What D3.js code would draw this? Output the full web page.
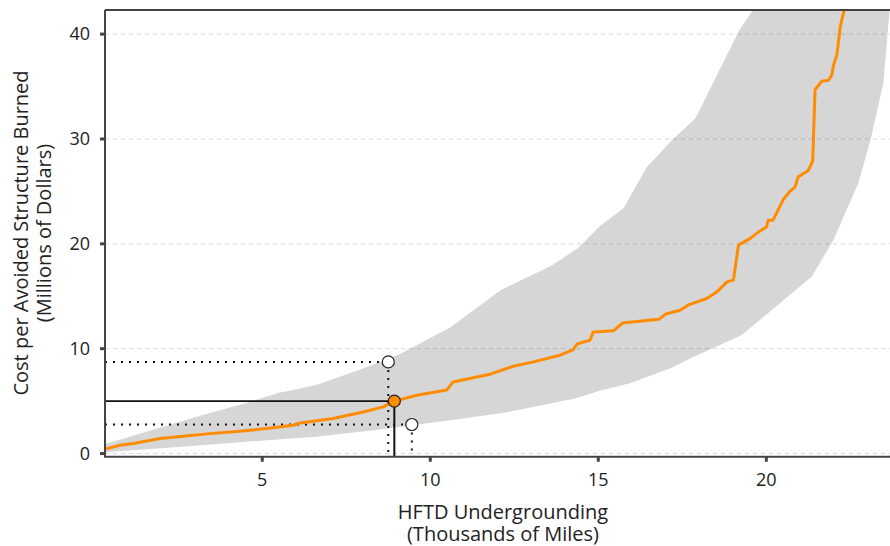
<!DOCTYPE html>
<html lang="en">
<head>
<meta charset="utf-8">
<title>Cost per avoided structure burned</title>
<script src="https://d3js.org/d3.v7.min.js"></script>
<style type="text/css">
  body { margin: 0; background: #fff; }
  svg text { font-family: "Open Sans", sans-serif; fill: #222; }
  .tick-label { font-size: 18px; }
  .axis-title { font-size: 20px; }
</style>
</head>
<body>
<div id="chart"></div>
<script type="text/javascript">
// ---- data ----
var yTicks = [0, 10, 20, 30, 40];
var xTicks = [5, 10, 15, 20];

// orange curve (thousands of miles, millions of dollars)
var curveX = [0.33, 0.76, 1.16, 1.96, 2.65, 3.44, 4.33, 5.13, 5.92, 6.12, 7.11, 8.0, 8.6, 8.93, 9.6,
  10.49, 10.68, 11.38, 11.78, 12.47, 13.07, 13.86, 14.26, 14.36, 14.75, 14.85, 15.45, 15.72, 16.8,
  17.0, 17.23, 17.43, 17.7, 18.23, 18.53, 18.83, 19.02, 19.17, 19.51, 19.71, 20.0, 20.06, 20.2,
  20.5, 20.7, 20.85, 20.95, 21.25, 21.38, 21.45, 21.65, 21.85, 21.95, 22.0, 22.1, 22.2, 22.3, 22.35];
var curveY = [0.42, 0.79, 0.95, 1.43, 1.65, 1.9, 2.13, 2.38, 2.7, 2.92, 3.34, 3.97, 4.45, 5.0, 5.56,
  6.06, 6.83, 7.3, 7.57, 8.33, 8.74, 9.38, 9.92, 10.43, 10.8, 11.6, 11.7, 12.45, 12.8,
  13.3, 13.5, 13.67, 14.2, 14.79, 15.42, 16.37, 16.54, 19.88, 20.5, 21.0, 21.6, 22.26, 22.26,
  24.2, 25.0, 25.4, 26.4, 27.0, 27.9, 34.7, 35.5, 35.6, 36.1, 37.05, 38.0, 40.7, 42.1, 43.0];

// grey band, upper and lower edges
var bandHighX = [0.33, 3.15, 4.6, 5.5, 6.0, 6.67, 8.0, 9.1, 10.6, 12.1, 13.6, 14.4, 15.05, 15.75,
  16.44, 17.2, 17.9, 18.5, 19.2, 19.6, 19.7];
var bandHighY = [0.9, 3.6, 4.9, 5.8, 6.1, 6.6, 8.1, 9.5, 12.05, 15.6, 17.9, 19.6, 21.7, 23.4,
  27.3, 29.9, 32.0, 35.9, 40.4, 42.3, 43.5];
var bandLowX = [0.33, 3.0, 5.13, 6.6, 8.5, 10.6, 12.2, 13.56, 14.3, 15.05, 15.94, 17.13, 17.83,
  19.27, 20.5, 21.35, 22.0, 22.74, 23.1, 23.48, 23.7];
var bandLowY = [0.12, 0.75, 1.27, 1.6, 2.3, 3.18, 3.9, 4.77, 5.25, 6.0, 6.7, 8.1, 9.2,
  11.3, 14.6, 16.85, 20.4, 25.8, 29.9, 35.3, 43.5];

// highlighted estimate and its two bounds
var pointX = 8.93, pointY = 5.0;
var upperX = 8.75, upperY = 8.74;
var lowerX = 9.45, lowerY = 2.77;

// ---- layout ----
var w = 890, h = 546;
var plotL = 105, plotR = 890, plotT = 10, plotB = 456.7;

var xScale = d3.scaleLinear().domain([0.32, 23.68]).range([plotL, plotR]);
var yScale = d3.scaleLinear().domain([-0.3, 42.3]).range([plotB, plotT]);

var svg = d3.select("#chart").append("svg")
    .attr("width", w)
    .attr("height", h);

svg.append("defs").append("clipPath")
    .attr("id", "plot-clip")
  .append("rect")
    .attr("x", plotL)
    .attr("y", plotT)
    .attr("width", plotR - plotL)
    .attr("height", plotB - plotT);

var plot = svg.append("g").attr("clip-path", "url(#plot-clip)");

// band polygon: upper edge forward, lower edge back
var bandPts = bandHighX.map(function (x, i) { return [x, bandHighY[i]]; });
for (var i = bandLowX.length - 1; i >= 0; i--) bandPts.push([bandLowX[i], bandLowY[i]]);

plot.append("path")
    .datum(bandPts)
    .attr("fill", "#d6d6d6")
    .attr("d", d3.line()
        .x(function (d) { return xScale(d[0]); })
        .y(function (d) { return yScale(d[1]); }));

// dashed grid
plot.selectAll(".grid")
    .data(yTicks)
    .enter().append("line")
    .attr("class", "grid")
    .attr("x1", plotL)
    .attr("x2", plotR)
    .attr("y1", function (d) { return yScale(d); })
    .attr("y2", function (d) { return yScale(d); })
    .attr("stroke", "#000")
    .attr("stroke-opacity", 0.16)
    .attr("stroke-width", 1)
    .attr("stroke-dasharray", "4,4");

// dotted guides to the bounds
var dotted = [
  [xScale.domain()[0], upperY, upperX, upperY],
  [upperX, upperY, upperX, yScale.domain()[0]],
  [xScale.domain()[0], lowerY, lowerX, lowerY],
  [lowerX, lowerY, lowerX, yScale.domain()[0]]
];
plot.selectAll(".guide")
    .data(dotted)
    .enter().append("line")
    .attr("class", "guide")
    .attr("x1", function (d) { return xScale(d[0]); })
    .attr("y1", function (d) { return yScale(d[1]); })
    .attr("x2", function (d) { return xScale(d[2]); })
    .attr("y2", function (d) { return yScale(d[3]); })
    .attr("stroke", "#111")
    .attr("stroke-width", 2)
    .attr("stroke-dasharray", "2,6");

// orange curve
plot.append("path")
    .datum(curveX.map(function (x, i) { return [x, curveY[i]]; }))
    .attr("fill", "none")
    .attr("stroke", "#ff8c00")
    .attr("stroke-width", 3)
    .attr("stroke-linejoin", "round")
    .attr("d", d3.line()
        .x(function (d) { return xScale(d[0]); })
        .y(function (d) { return yScale(d[1]); }));

// solid guides to the estimate
plot.append("line")
    .attr("x1", plotL).attr("x2", xScale(pointX))
    .attr("y1", yScale(pointY)).attr("y2", yScale(pointY))
    .attr("stroke", "#111").attr("stroke-width", 1.8);
plot.append("line")
    .attr("x1", xScale(pointX)).attr("x2", xScale(pointX))
    .attr("y1", yScale(pointY)).attr("y2", plotB)
    .attr("stroke", "#111").attr("stroke-width", 2);

// markers
svg.selectAll(".bound")
    .data([[upperX, upperY], [lowerX, lowerY]])
    .enter().append("circle")
    .attr("class", "bound")
    .attr("cx", function (d) { return xScale(d[0]); })
    .attr("cy", function (d) { return yScale(d[1]); })
    .attr("r", 6)
    .attr("fill", "#fff")
    .attr("stroke", "#222")
    .attr("stroke-width", 1.2);

svg.append("circle")
    .attr("cx", xScale(pointX))
    .attr("cy", yScale(pointY))
    .attr("r", 6)
    .attr("fill", "#ff8c00")
    .attr("stroke", "#222")
    .attr("stroke-width", 1.2);

// axes frame
var axisColor = "#444";
svg.append("line")
    .attr("x1", plotL).attr("x2", plotL).attr("y1", plotT).attr("y2", plotB)
    .attr("stroke", axisColor).attr("stroke-width", 2);
svg.append("line")
    .attr("x1", plotL).attr("x2", plotR).attr("y1", plotT).attr("y2", plotT)
    .attr("stroke", axisColor).attr("stroke-width", 2);
svg.append("line")
    .attr("x1", plotL - 1).attr("x2", plotR).attr("y1", plotB).attr("y2", plotB)
    .attr("stroke", axisColor).attr("stroke-width", 2);

// y ticks
var yAxis = svg.append("g");
yAxis.selectAll(".ytick")
    .data(yTicks)
    .enter().append("line")
    .attr("x1", plotL - 5).attr("x2", plotL)
    .attr("y1", function (d) { return yScale(d); })
    .attr("y2", function (d) { return yScale(d); })
    .attr("stroke", axisColor)
    .attr("stroke-width", 3);
yAxis.selectAll(".ylab")
    .data(yTicks)
    .enter().append("text")
    .attr("class", "tick-label")
    .attr("x", plotL - 15)
    .attr("y", function (d) { return yScale(d); })
    .attr("dy", "0.35em")
    .attr("text-anchor", "end")
    .text(function (d) { return d; });

// x ticks
var xAxis = svg.append("g");
xAxis.selectAll(".xtick")
    .data(xTicks)
    .enter().append("line")
    .attr("x1", function (d) { return xScale(d); })
    .attr("x2", function (d) { return xScale(d); })
    .attr("y1", plotB).attr("y2", plotB + 5)
    .attr("stroke", axisColor)
    .attr("stroke-width", 3);
xAxis.selectAll(".xlab")
    .data(xTicks)
    .enter().append("text")
    .attr("class", "tick-label")
    .attr("x", function (d) { return xScale(d); })
    .attr("y", 486)
    .attr("text-anchor", "middle")
    .text(function (d) { return d; });

// axis titles
var xt = svg.append("text")
    .attr("class", "axis-title")
    .attr("text-anchor", "middle");
xt.append("tspan").attr("x", 503).attr("y", 519).text("HFTD Undergrounding");
xt.append("tspan").attr("x", 503).attr("y", 541).text("(Thousands of Miles)");

var yt = svg.append("text")
    .attr("class", "axis-title")
    .attr("text-anchor", "middle")
    .attr("transform", "translate(28,233) rotate(-90)");
yt.append("tspan").attr("x", 0).attr("y", 0).text("Cost per Avoided Structure Burned");
yt.append("tspan").attr("x", 0).attr("y", 23).text("(Millions of Dollars)");
</script>
</body>
</html>
